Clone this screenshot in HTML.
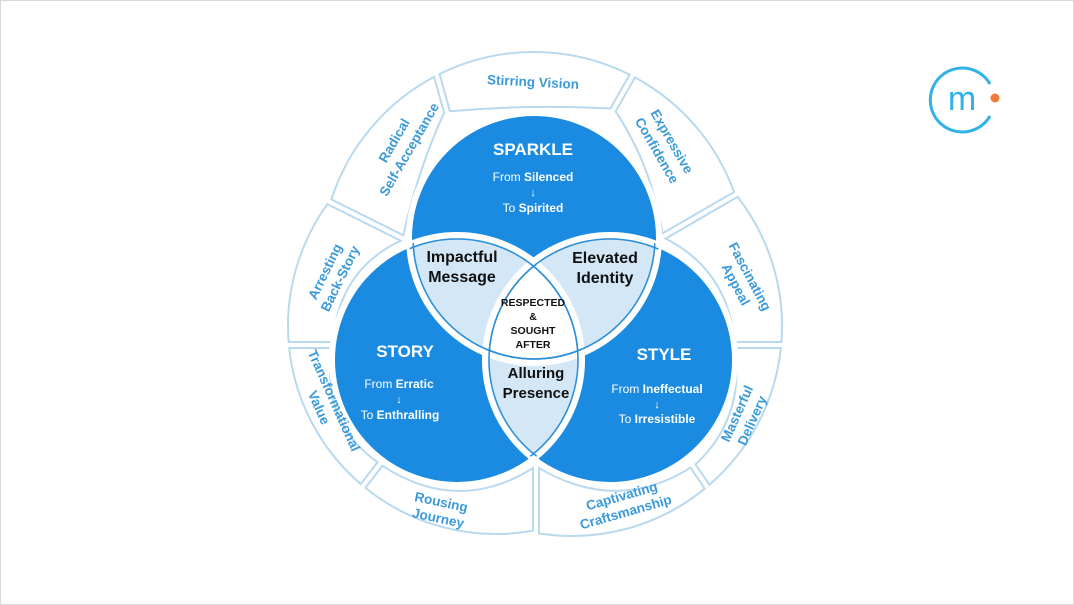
<!DOCTYPE html>
<html><head><meta charset="utf-8"><style>
html,body{margin:0;padding:0;background:#fff;}
body{width:1074px;height:605px;overflow:hidden;font-family:"Liberation Sans",sans-serif;}
svg{display:block;}
</style></head><body>
<svg width="1074" height="605" viewBox="0 0 1074 605" xmlns="http://www.w3.org/2000/svg" font-family="Liberation Sans, sans-serif">
<rect x="0.5" y="0.5" width="1073" height="604" fill="#fff" stroke="#d8d8d8"/>
<defs>
<clipPath id="cA"><circle cx="534" cy="238" r="125"/></clipPath>
<clipPath id="cB"><circle cx="457" cy="360" r="125"/></clipPath>
<clipPath id="cC"><circle cx="610" cy="360" r="125"/></clipPath>
</defs>
<g id="ring" fill="#fff" stroke="#b9d9ef" stroke-width="2"></g>
<circle cx="534" cy="238" r="125" fill="#1a8be0"/>
<circle cx="457" cy="360" r="125" fill="#1a8be0"/>
<circle cx="610" cy="360" r="125" fill="#1a8be0"/>
<g clip-path="url(#cA)"><circle cx="457" cy="360" r="125" fill="#d4e7f6"/></g>
<g clip-path="url(#cA)"><circle cx="610" cy="360" r="125" fill="#d4e7f6"/></g>
<g clip-path="url(#cB)"><circle cx="610" cy="360" r="125" fill="#d4e7f6"/></g>
<g clip-path="url(#cA)"><g clip-path="url(#cB)"><circle cx="610" cy="360" r="125" fill="#fff"/></g></g>
<g fill="none" stroke="#fff" stroke-width="6">
<circle cx="534" cy="238" r="125"/><circle cx="457" cy="360" r="125"/><circle cx="610" cy="360" r="125"/>
</g>
<g fill="none" stroke="#2a8fd8" stroke-width="1.5">
<g clip-path="url(#cB)"><circle cx="534" cy="238" r="121"/></g>
<g clip-path="url(#cC)"><circle cx="534" cy="238" r="121"/></g>
<g clip-path="url(#cA)"><circle cx="457" cy="360" r="121"/><circle cx="610" cy="360" r="121"/></g>
<g clip-path="url(#cC)"><circle cx="457" cy="360" r="121"/></g>
<g clip-path="url(#cB)"><circle cx="610" cy="360" r="121"/></g>
</g>
<g fill="#fff" text-anchor="middle" font-weight="bold">
<text x="533" y="155" font-size="17">SPARKLE</text>
<text x="533" y="181" font-size="12"><tspan font-weight="normal">From </tspan>Silenced</text>
<text x="533" y="196" font-size="11" font-weight="normal">↓</text>
<text x="533" y="212" font-size="12"><tspan font-weight="normal">To </tspan>Spirited</text>
<text x="405" y="357" font-size="17">STORY</text>
<text x="399" y="388" font-size="12"><tspan font-weight="normal">From </tspan>Erratic</text>
<text x="399" y="403" font-size="11" font-weight="normal">↓</text>
<text x="400" y="419" font-size="12"><tspan font-weight="normal">To </tspan>Enthralling</text>
<text x="664" y="360" font-size="17">STYLE</text>
<text x="657" y="393" font-size="12"><tspan font-weight="normal">From </tspan>Ineffectual</text>
<text x="657" y="408" font-size="11" font-weight="normal">↓</text>
<text x="657" y="423" font-size="12"><tspan font-weight="normal">To </tspan>Irresistible</text>
</g>
<g fill="#111" text-anchor="middle" font-weight="bold">
<text x="462" y="262" font-size="16">Impactful</text>
<text x="462" y="282" font-size="16">Message</text>
<text x="605" y="263" font-size="16">Elevated</text>
<text x="605" y="283" font-size="16">Identity</text>
<text x="536" y="378" font-size="15">Alluring</text>
<text x="536" y="398" font-size="15">Presence</text>
<text x="533" y="306" font-size="10.5">RESPECTED</text>
<text x="533" y="320" font-size="10.5">&amp;</text>
<text x="533" y="334" font-size="10.5">SOUGHT</text>
<text x="533" y="348" font-size="10.5">AFTER</text>
</g>
<g fill="#3a9ad9" font-weight="bold" font-size="13.5" text-anchor="middle" dominant-baseline="middle">
<text transform="translate(533,83) rotate(3)">Stirring Vision</text>
<text transform="translate(395,141) rotate(-60)">Radical</text>
<text transform="translate(410,150) rotate(-60)">Self-Acceptance</text>
<text transform="translate(671,142) rotate(60)">Expressive</text>
<text transform="translate(656,151) rotate(60)">Confidence</text>
<text transform="translate(749,277) rotate(62)">Fascinating</text>
<text transform="translate(735,285) rotate(62)">Appeal</text>
<text transform="translate(738,414) rotate(-66)">Masterful</text>
<text transform="translate(753,421) rotate(-66)">Delivery</text>
<text transform="translate(622,497) rotate(-16)">Captivating</text>
<text transform="translate(626,513) rotate(-16)">Craftsmanship</text>
<text transform="translate(441,503) rotate(12)">Rousing</text>
<text transform="translate(438,519) rotate(12)">Journey</text>
<text transform="translate(333,401) rotate(66)">Transformational</text>
<text transform="translate(318,408) rotate(66)">Value</text>
<text transform="translate(326,272) rotate(-64)">Arresting</text>
<text transform="translate(341,279) rotate(-64)">Back-Story</text>
</g>
<path d="M990 84 A32 32 0 1 0 990 116" fill="none" stroke="#2fb1ea" stroke-width="3"/>
<text x="962" y="110" font-size="34" fill="#2fb1ea" text-anchor="middle">m</text>
<circle cx="995" cy="98" r="4.5" fill="#f07a3a"/>
<script>
(function(){
var ns="http://www.w3.org/2000/svg";
var ring=document.getElementById('ring');
var SP=[534,238,534,265,213],ST=[457,360,496,326,208],SY=[610,360,572,326,210];
var B=[[[613,110],[630,80]],[[664,236],[702,214]],[[735,345],[782,345]],[[693,466],[712,494]],[[536,468],[536,532]],[[380,464],[360,490]],[[333,345],[287,345]],[[402,238],[362,218]],[[447,112],[437,76]]];
var segs=[[0,1,SP],[1,2,SY],[2,3,SY],[3,4,SY],[4,5,ST],[5,6,ST],[6,7,ST],[7,8,SP],[8,0,SP]];
function sub(a,b){return [a[0]-b[0],a[1]-b[1]];}
function add(a,b){return [a[0]+b[0],a[1]+b[1]];}
function mul(a,k){return [a[0]*k,a[1]*k];}
function len(a){return Math.hypot(a[0],a[1]);}
function hit(p,q,c,R){
 var d=sub(q,p),o=sub(p,c);
 var a=d[0]*d[0]+d[1]*d[1],b=2*(o[0]*d[0]+o[1]*d[1]),cc=o[0]*o[0]+o[1]*o[1]-R*R;
 var t=(-b+Math.sqrt(Math.max(0,b*b-4*a*cc)))/(2*a);
 return add(p,mul(d,t));
}
function off(bd,c,sign){
 var v=sub(bd[1],bd[0]);var n=[-v[1],v[0]];n=mul(n,1/len(n));
 var mid=mul(add(bd[0],bd[1]),.5);var r=sub(mid,c);
 var cw=[-r[1],r[0]];
 if(n[0]*cw[0]+n[1]*cw[1]<0)n=mul(n,-1);
 var s=mul(n,3*sign);return [add(bd[0],s),add(bd[1],s)];
}
segs.forEach(function(S){
 var g=S[2],c=[g[0],g[1]],oc=[g[2],g[3]],R=g[4];
 var b0=off(B[S[0]],c,1),b1=off(B[S[1]],c,-1);
 var A=b0[0],Bo=hit(b0[0],b0[1],oc,R),C=hit(b1[0],b1[1],oc,R),D=b1[0];
 var m=mul(add(A,D),.5);
 var dir=sub(m,c);dir=mul(dir,1/len(dir));
 var tIn=add(c,mul(dir,131)),ctI=sub(mul(tIn,2),m);
 var d="M"+A+" L"+Bo+" A"+R+" "+R+" 0 0 1 "+C+" L"+D+" Q"+ctI+" "+A+"Z";
 var p=document.createElementNS(ns,'path');p.setAttribute('d',d);ring.appendChild(p);
});
})();
</script>
</svg>
</body></html>
